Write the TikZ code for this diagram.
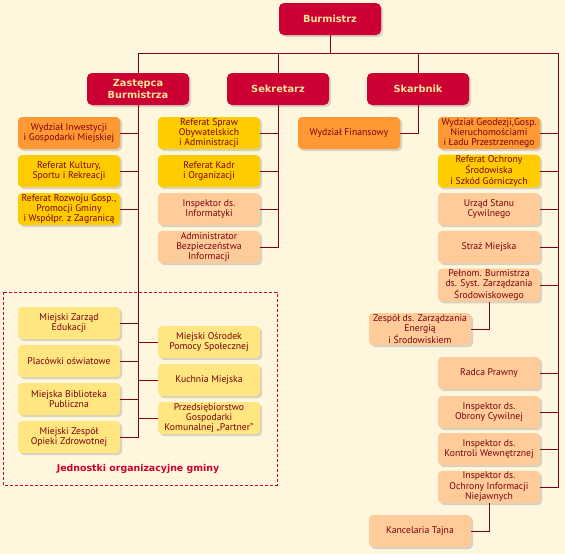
\documentclass[tikz,border=0pt]{standalone}
\usepackage{fontspec}
\setmainfont{PT Sans}
\newfontfamily\headfont{DejaVu Sans}
\usepackage{tikz}
\usetikzlibrary{positioning, calc, shadows}

\definecolor{bgcream}{HTML}{FFF6DE}
\definecolor{headred}{HTML}{CC0033}
\definecolor{headtxt}{HTML}{FFE699}
\definecolor{boxorange}{HTML}{FF9933}
\definecolor{boxgold}{HTML}{FFCC00}
\definecolor{boxpeach}{HTML}{FFCC99}
\definecolor{boxunit}{HTML}{FFE680}
\definecolor{linered}{HTML}{800020}
\definecolor{txtred}{HTML}{7A0010}

\tikzset{
  box/.style={rounded corners=4pt, minimum width=102pt, minimum height=32pt,
    inner sep=1pt, align=center, text=txtred,
    font=\fontsize{9.7}{10.4}\selectfont,
    drop shadow={shadow xshift=2pt, shadow yshift=-2pt, opacity=0.3}},
  head/.style={box, fill=headred, text=headtxt, rounded corners=5pt,
    font=\headfont\bfseries\fontsize{9.8}{12}\selectfont},
  orange/.style={box, fill=boxorange},
  gold/.style={box, fill=boxgold},
  peach/.style={box, fill=boxpeach},
  unit/.style={box, fill=boxunit},
  conn/.style={draw=linered, line width=0.9pt},
}

\begin{document}
\begin{tikzpicture}[x=1pt, y=-1pt]
        \fill[bgcream] (0,0) rectangle (565,554);
        \useasboundingbox (0,0) rectangle (565,554);
        % frame
        \draw[headred, line width=0.8pt, dash pattern=on 3pt off 2pt] (3,292) rectangle (277,485);
        % nodes
        \node[head] (burm)  at (330, 19) {Burmistrz};
        \node[head] (zast)  at (138, 89) {Zastępca\\Burmistrza};
        \node[head] (sekr)  at (278, 89) {Sekretarz};
        \node[head] (skarb) at (418, 89) {Skarbnik};
        \node[orange] (zast-1) at (69, 133) {Wydział Inwestycji\\i Gospodarki Miejskiej};
        \node[gold]   (zast-2) at (69, 171) {Referat Kultury,\\Sportu i Rekreacji};
        \node[gold]   (zast-3) at (69, 209) {Referat Rozwoju Gosp.,\\Promocji Gminy\\i Współpr. z Zagranicą};
        \node[gold]   (sekr-1) at (209, 133) {Referat Spraw\\Obywatelskich\\i Administracji};
        \node[gold]   (sekr-2) at (209, 171) {Referat Kadr\\i Organizacji};
        \node[peach]  (sekr-3) at (209, 209) {Inspektor ds.\\Informatyki};
        \node[peach]  (sekr-4) at (209, 247) {Administrator\\Bezpieczeństwa\\Informacji};
        \node[orange] (skarb-1) at (349, 133) {Wydział Finansowy};
        \node[orange] (burm-1) at (489, 133) {Wydział Geodezji,Gosp.\\Nieruchomościami\\i Ładu Przestrzennego};
        \node[gold]   (burm-2) at (489, 171) {Referat Ochrony\\Środowiska\\i Szkód Górniczych};
        \node[peach]  (burm-3) at (489, 209) {Urząd Stanu\\Cywilnego};
        \node[peach]  (burm-4) at (489, 247) {Straż Miejska};
        \node[peach]  (burm-5) at (489, 285) {Pełnom. Burmistrza\\ds. Syst. Zarządzania\\Środowiskowego};
        \node[peach]  (burm-5-1) at (420, 329) {Zespół ds. Zarządzania\\Energią\\i Środowiskiem};
        \node[peach]  (burm-6) at (489, 373) {Radca Prawny};
        \node[peach]  (burm-7) at (489, 412) {Inspektor ds.\\Obrony Cywilnej};
        \node[peach]  (burm-8) at (489, 449) {Inspektor ds.\\Kontroli Wewnętrznej};
        \node[peach]  (burm-9) at (489, 487) {Inspektor ds.\\Ochrony Informacji\\Niejawnych};
        \node[peach]  (burm-9-1) at (420, 531) {Kancelaria Tajna};
        \node[unit]   (unit-1) at (69, 323) {Miejski Zarząd\\Edukacji};
        \node[unit]   (unit-2) at (69, 361) {Placówki oświatowe};
        \node[unit]   (unit-3) at (69, 399) {Miejska Biblioteka\\Publiczna};
        \node[unit]   (unit-4) at (69, 437) {Miejski Zespół\\Opieki Zdrowotnej};
        \node[unit]   (unit-5) at (209, 342) {Miejski Ośrodek\\Pomocy Społecznej};
        \node[unit]   (unit-6) at (209, 380) {Kuchnia Miejska};
        \node[unit]   (unit-7) at (209, 418) {Przedsiębiorstwo\\Gospodarki\\Komunalnej „Partner”};
        \node[text=headred, font=\headfont\bfseries\fontsize{9.4}{10}\selectfont] (jedn) at (138, 469) {Jednostki organizacyjne gminy};
        % lines
        \coordinate (bus-l) at (138, 53);
        \coordinate (bus-r) at (558, 53);
        \draw[conn] (burm.south) -- (burm.south |- bus-l);
        \draw[conn] (zast.north) -- (bus-l) -- (bus-r) |- (burm-9.east);
        \draw[conn] (sekr.north) -- (sekr.north |- bus-l);
        \draw[conn] (skarb.north) -- (skarb.north |- bus-l);
        \draw[conn] (zast.south) |- (unit-4.east);
        \foreach \n in {zast-1, zast-2, zast-3, unit-1, unit-2, unit-3}
          \draw[conn] (\n.east) -- (\n.east -| zast.south);
        \foreach \n in {unit-5, unit-6, unit-7}
          \draw[conn] (\n.west) -- (\n.west -| zast.south);
        \draw[conn] (sekr.south) |- (sekr-4.east);
        \foreach \n in {sekr-1, sekr-2, sekr-3}
          \draw[conn] (\n.east) -- (\n.east -| sekr.south);
        \draw[conn] (skarb.south) |- (skarb-1.east);
        \foreach \n in {burm-1, burm-2, burm-3, burm-4, burm-5, burm-6, burm-7, burm-8}
          \draw[conn] (\n.east) -- (\n.east -| bus-r);
        \draw[conn] (burm-5.south) |- (burm-5-1.east);
        \draw[conn] (burm-9.south) |- (burm-9-1.east);
\end{tikzpicture}
\end{document}
